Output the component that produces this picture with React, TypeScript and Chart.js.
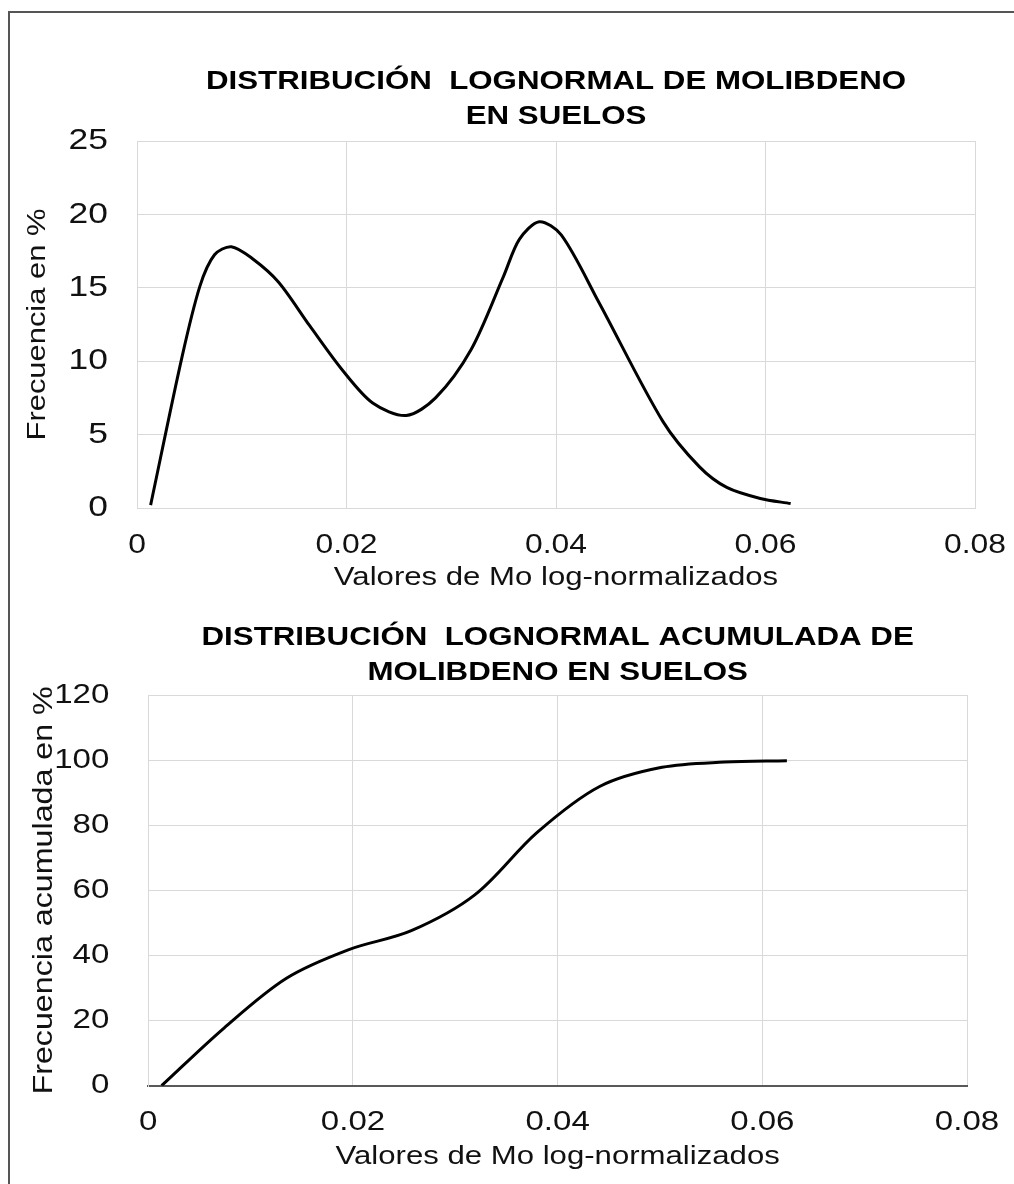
import React, { useEffect, useRef } from "react";
import { Chart, registerables } from "chart.js";

Chart.register(...registerables);

// ---------- data ----------
const densX = [0.0013, 0.0043, 0.006, 0.0074, 0.009, 0.011, 0.0135, 0.0165, 0.0196, 0.0225, 0.0257, 0.0285, 0.0319, 0.035, 0.0365, 0.0384, 0.0405, 0.0441, 0.0502, 0.0537, 0.0563, 0.0595, 0.0624];
const densY = [0.2, 10.3, 15.1, 17.25, 17.8, 17.0, 15.4, 12.4, 9.4, 7.15, 6.3, 7.5, 10.8, 15.8, 18.3, 19.5, 18.6, 14.0, 5.9, 2.8, 1.4, 0.65, 0.3];

const cumX = [0.0013, 0.0074, 0.0135, 0.0196, 0.0257, 0.0319, 0.038, 0.0441, 0.0502, 0.0563, 0.0624];
const cumY = [0, 17.7, 33.0, 41.8, 47.6, 58.6, 77.8, 91.9, 97.8, 99.4, 99.8];

const xTicks = [0, 0.02, 0.04, 0.06, 0.08];
const densYTicks = [0, 5, 10, 15, 20, 25];
const cumYTicks = [0, 20, 40, 60, 80, 100, 120];

const title1 = ["DISTRIBUCIÓN  LOGNORMAL DE MOLIBDENO", "EN SUELOS"];
const title2 = ["DISTRIBUCIÓN  LOGNORMAL ACUMULADA DE", "MOLIBDENO EN SUELOS"];
const xTitle = "Valores de Mo log-normalizados";
const yTitle1 = "Frecuencia en %";
const yTitle2 = "Frecuencia acumulada en %";

// ---------- helpers ----------
const FONT = "'Liberation Sans', Arial, sans-serif";
const GRID = "#d9d9d9";
const TEXT = "#111";

function stretchText(ctx: CanvasRenderingContext2D, s: number) {
  const origFill = ctx.fillText.bind(ctx);
  const origMeasure = ctx.measureText.bind(ctx);
  (ctx as any).fillText = (text: string, x: number, y: number, maxWidth?: number) => {
    ctx.save();
    ctx.translate(x, y);
    ctx.scale(s, 1);
    if (maxWidth !== undefined && maxWidth !== null) origFill(text, 0, 0, maxWidth / s);
    else origFill(text, 0, 0);
    ctx.restore();
  };
  (ctx as any).measureText = (text: string) => {
    const m = origMeasure(text);
    return {
      width: m.width * s,
      actualBoundingBoxAscent: m.actualBoundingBoxAscent,
      actualBoundingBoxDescent: m.actualBoundingBoxDescent,
      actualBoundingBoxLeft: m.actualBoundingBoxLeft * s,
      actualBoundingBoxRight: m.actualBoundingBoxRight * s,
      fontBoundingBoxAscent: m.fontBoundingBoxAscent,
      fontBoundingBoxDescent: m.fontBoundingBoxDescent,
    } as TextMetrics;
  };
}

type Cfg = {
  xs: number[];
  ys: number[];
  tension: number;
  yTicks: number[];
  title: string[];
  yTitle: string;
  pad: { left: number; right: number; top: number; bottom: number };
  titleSize: number;
  titlePad: { top: number; bottom: number };
  xHeight: number;
  xTickSize: number;
  xTickPad: number;
  xTitleSize: number;
  xTitlePadBottom: number;
  yWidth: number;
  yTickSize: number;
  yTickPad: number;
  yTitleSize: number;
  yTitlePadTop: number;
  darkXAxis: boolean;
  stretch: number;
};

function makeChart(canvas: HTMLCanvasElement, c: Cfg) {
  const ctx = canvas.getContext("2d") as CanvasRenderingContext2D;
  stretchText(ctx, c.stretch);
  const yMin = c.yTicks[0];
  const yMax = c.yTicks[c.yTicks.length - 1];
  return new Chart(ctx, {
    type: "scatter",
    data: {
      datasets: [
        {
          data: c.xs.map((x, i) => ({ x, y: c.ys[i] })),
          showLine: true,
          borderColor: "#000",
          backgroundColor: "#000",
          borderWidth: 3,
          pointRadius: 0,
          pointHoverRadius: 0,
          tension: c.tension,
          fill: false,
        } as any,
      ],
    },
    options: {
      animation: false,
      responsive: false,
      maintainAspectRatio: false,
      events: [],
      layout: { padding: c.pad },
      plugins: {
        legend: { display: false },
        tooltip: { enabled: false },
        title: {
          display: true,
          text: c.title,
          fullSize: false,
          color: "#000",
          font: { family: FONT, size: c.titleSize, weight: "bold", lineHeight: "35px" as any },
          padding: c.titlePad,
        },
      },
      scales: {
        x: {
          type: "linear",
          min: xTicks[0],
          max: xTicks[xTicks.length - 1],
          afterBuildTicks: (s: any) => {
            s.ticks = xTicks.map((v) => ({ value: v }));
          },
          afterFit: (s: any) => {
            s.height = c.xHeight;
            s.paddingLeft = 0;
            s.paddingRight = 0;
          },
          ticks: {
            color: TEXT,
            font: { family: FONT, size: c.xTickSize },
            padding: c.xTickPad,
            maxRotation: 0,
            callback: (v: any) => String(Math.round(Number(v) * 1000) / 1000),
          },
          grid: { color: GRID, lineWidth: 1, drawTicks: false },
          border: { display: true, color: c.darkXAxis ? "#595959" : GRID, width: c.darkXAxis ? 2 : 1 },
          title: {
            display: true,
            text: xTitle,
            color: TEXT,
            font: { family: FONT, size: c.xTitleSize },
            padding: { top: 0, bottom: c.xTitlePadBottom },
          },
        },
        y: {
          type: "linear",
          min: yMin,
          max: yMax,
          afterBuildTicks: (s: any) => {
            s.ticks = c.yTicks.map((v) => ({ value: v }));
          },
          afterFit: (s: any) => {
            s.width = c.yWidth;
            s.paddingTop = 0;
            s.paddingBottom = 0;
          },
          ticks: {
            color: TEXT,
            font: { family: FONT, size: c.yTickSize },
            padding: c.yTickPad,
          },
          grid: {
            color: (g: any) => (c.darkXAxis && g.tick && g.tick.value === 0 ? "#595959" : GRID),
            lineWidth: (g: any) => (c.darkXAxis && g.tick && g.tick.value === 0 ? 2 : 1),
            drawTicks: false,
          },
          border: { display: true, color: GRID, width: 1 },
          title: {
            display: true,
            text: c.yTitle,
            color: TEXT,
            font: { family: FONT, size: c.yTitleSize },
            padding: { top: c.yTitlePadTop, bottom: 0 },
          },
        },
      },
    },
  });
}

export default function App() {
  const topRef = useRef<HTMLCanvasElement | null>(null);
  const botRef = useRef<HTMLCanvasElement | null>(null);

  useEffect(() => {
    if (!topRef.current || !botRef.current) return;
    const a = makeChart(topRef.current, {
      xs: densX,
      ys: densY,
      tension: 0.3,
      yTicks: densYTicks,
      title: title1,
      yTitle: yTitle1,
      pad: { left: 10, right: 39, top: 0, bottom: 2 },
      titleSize: 26.5,
      titlePad: { top: 64, bottom: 7 },
      xHeight: 90,
      xTickSize: 27,
      xTickPad: 21.8,
      xTitleSize: 26.4,
      xTitlePadBottom: 4.2,
      yWidth: 127,
      yTickSize: 30,
      yTickPad: 29,
      yTitleSize: 26.2,
      yTitlePadTop: 12.3,
      darkXAxis: false,
      stretch: 1.18,
    });
    const b = makeChart(botRef.current, {
      xs: cumX,
      ys: cumY,
      tension: 0.33,
      yTicks: cumYTicks,
      title: title2,
      yTitle: yTitle2,
      pad: { left: 10, right: 47, top: 0, bottom: 0 },
      titleSize: 26.5,
      titlePad: { top: 20, bottom: 5 },
      xHeight: 98.3,
      xTickSize: 28,
      xTickPad: 20,
      xTitleSize: 26.4,
      xTitlePadBottom: 11.2,
      yWidth: 138.3,
      yTickSize: 28,
      yTickPad: 39,
      yTitleSize: 27.3,
      yTitlePadTop: 17.6,
      darkXAxis: true,
      stretch: 1.18,
    });
    return () => {
      a.destroy();
      b.destroy();
    };
  }, []);

  return (
    <div style={{ position: "absolute", left: 0, top: 0, width: 1014, height: 1184, background: "#fff", overflow: "hidden" }}>
      <canvas ref={topRef} width={1014} height={600} style={{ position: "absolute", left: 0, top: 0, width: 1014, height: 600 }} />
      <canvas ref={botRef} width={1014} height={584} style={{ position: "absolute", left: 0, top: 600, width: 1014, height: 584 }} />
      <div
        style={{
          position: "absolute",
          left: 8,
          top: 11,
          width: 1010,
          height: 1180,
          borderLeft: "2px solid #555",
          borderTop: "2px solid #555",
          pointerEvents: "none",
        }}
      />
    </div>
  );
}
